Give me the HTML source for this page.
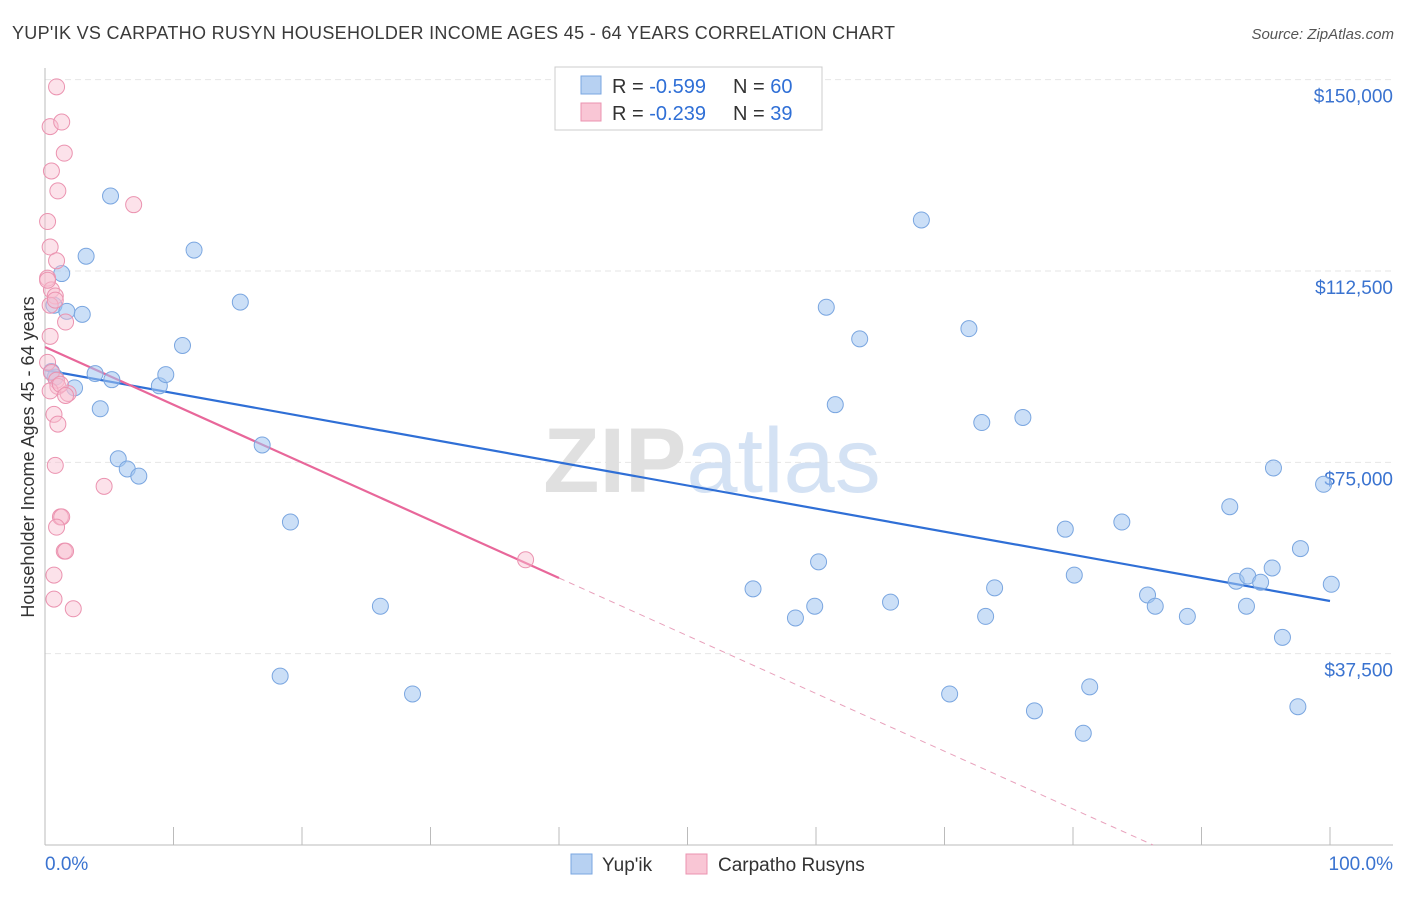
<!DOCTYPE html>
<html><head><meta charset="utf-8"><style>
body{margin:0;background:#fff;font-family:"Liberation Sans",sans-serif;}
svg text{font-family:"Liberation Sans",sans-serif;}
</style></head><body>
<svg id="chart" width="1406" height="892" xmlns="http://www.w3.org/2000/svg">
<text x="12" y="39" font-size="18" fill="#3a3a3a" textLength="883">YUP'IK VS CARPATHO RUSYN HOUSEHOLDER INCOME AGES 45 - 64 YEARS CORRELATION CHART</text>
<text x="1394" y="39" font-size="15" fill="#555" text-anchor="end" font-style="italic">Source: ZipAtlas.com</text>
<g id="grid"></g>
<text x="712" y="492" font-size="92" text-anchor="middle" fill="#e0e0e0" font-family="Liberation Serif" font-weight="bold">ZIP<tspan fill="#d4e2f4" font-family="Liberation Sans" font-weight="normal">atlas</tspan></text>
<text transform="translate(34,457) rotate(-90)" font-size="18" fill="#333" text-anchor="middle">Householder Income Ages 45 - 64 years</text>
<g id="lines"></g>
<g id="points"></g>
<g>
<rect x="555" y="67" width="267" height="63" fill="#fff" stroke="#ccc"/>
<rect x="581" y="76" width="20" height="18" fill="#b7d1f2" stroke="#7aa6e0"/>
<rect x="581" y="103" width="20" height="18" fill="#f9c6d5" stroke="#eb93b0"/>
<text x="612" y="93" font-size="20" fill="#333">R = <tspan fill="#2f6fd6">-0.599</tspan></text>
<text x="733" y="93" font-size="20" fill="#333">N = <tspan fill="#2f6fd6">60</tspan></text>
<text x="612" y="120" font-size="20" fill="#333">R = <tspan fill="#2f6fd6">-0.239</tspan></text>
<text x="733" y="120" font-size="20" fill="#333">N =  <tspan fill="#2f6fd6">39</tspan></text>
</g>
<g>
<rect x="571" y="854" width="21" height="20" fill="#b7d1f2" stroke="#7aa6e0"/>
<text x="602" y="871" font-size="19" fill="#333">Yup'ik</text>
<rect x="686" y="854" width="21" height="20" fill="#f9c6d5" stroke="#eb93b0"/>
<text x="718" y="871" font-size="19" fill="#333">Carpatho Rusyns</text>
</g>
<text x="45" y="870" font-size="19" fill="#3a73d0">0.0%</text>
<text x="1393" y="870" font-size="19" fill="#3a73d0" text-anchor="end">100.0%</text>
</svg>
<script>
const yTicks=[37500,75000,112500,150000];
const yTickLabels=["$37,500","$75,000","$112,500","$150,000"];
const xTicks=[0,10,20,30,40,50,60,70,80,90,100];
const blueX=[5.1,3.2,1.3,0.7,1.7,2.9,11.6,15.2,10.7,3.9,5.2,2.3,8.9,9.4,4.3,5.7,6.4,7.3,16.9,19.1,26.1,18.3,28.6,68.2,60.8,63.4,71.9,61.5,72.9,76.1,79.4,83.8,95.6,99.5,92.2,97.7,80.1,95.5,92.7,93.6,94.6,100.1,73.9,60.2,55.1,58.4,59.9,65.8,73.2,85.8,86.4,88.9,93.5,96.3,70.4,77.0,81.3,80.8,97.5,0.8,0.5];
const blueY=[127200,115400,112000,105800,104600,104000,116600,106400,97900,92400,91200,89600,90000,92200,85500,75700,73700,72300,78400,63300,46800,33100,29600,122500,105400,99200,101200,86300,82800,83800,61900,63300,73900,70700,66300,58100,52900,54300,51700,52700,51500,51100,50400,55500,50200,44500,46800,47600,44800,49000,46800,44800,46800,40700,29600,26300,31000,21900,27100,91700,92800];
const pinkX=[0.9,0.4,1.3,1.5,0.5,1.0,6.9,0.2,0.4,0.9,0.2,0.5,0.8,0.4,1.6,0.4,0.2,0.5,0.9,1.0,1.8,0.7,1.0,4.6,0.8,1.2,1.3,0.9,1.5,1.6,0.7,0.7,2.2,37.4,0.4,0.8,0.2,1.2,1.6];
const pinkY=[148600,140800,141700,135600,132100,128200,125500,122200,117200,114500,111100,108800,107600,105800,102500,99700,94600,92600,91100,89900,88500,84400,82500,70300,74400,64300,64300,62300,57600,57600,52900,48200,46300,55900,89000,106800,110700,90300,88100];
const blueLine=[93100,47824];
const pinkLine=[97608,52332];
const pinkSolidEnd=40;
const NS="http://www.w3.org/2000/svg";
const X=v=>45+v*12.85, Y=v=>845-v/37500*191.33;
function mk(tag,attrs,parent){const e=document.createElementNS(NS,tag);for(const k in attrs)e.setAttribute(k,attrs[k]);document.getElementById(parent).appendChild(e);return e;}
const g="grid";
yTicks.forEach((t,i)=>{
 const l=mk("line",{x1:45,x2:1393,y1:Y(t),y2:Y(t),stroke:"#e6e6e6","stroke-dasharray":"6,4"},g);
 
 
 const tx=mk("text",{x:1393,y:Y(t)+23,"font-size":19,fill:"#3a73d0","text-anchor":"end"},g);
 tx.textContent=yTickLabels[i];
 
 
});
const ax=mk("line",{x1:45,x2:45,y1:68,y2:845,stroke:"#bbb"},g);


const bx=mk("line",{x1:45,x2:1393,y1:845,y2:845,stroke:"#bbb"},g);


xTicks.forEach(t=>{const l=mk("line",{x1:X(t),x2:X(t),y1:827,y2:845,stroke:"#bbb"},g);
 
 });
const bl=mk("line",{x1:X(0),y1:Y(blueLine[0]),x2:X(100),y2:Y(blueLine[1]),stroke:"#2f6fd6","stroke-width":2.2},"lines");


const slope=(pinkLine[1]-pinkLine[0])/pinkSolidEnd;
const zeroX=-pinkLine[0]/slope;
const pl=mk("line",{x1:X(0),y1:Y(pinkLine[0]),x2:X(pinkSolidEnd),y2:Y(pinkLine[1]),stroke:"#e8679a","stroke-width":2.2},"lines");


const pd=mk("line",{x1:X(pinkSolidEnd),y1:Y(pinkLine[1]),x2:X(zeroX),y2:Y(0),stroke:"#e8a0bb","stroke-width":1,"stroke-dasharray":"6,5"},"lines");


blueX.forEach((x,i)=>{const c=mk("circle",{cx:X(x),cy:Y(blueY[i]),r:8,fill:"rgba(160,196,240,0.55)",stroke:"#7aa6e0","stroke-width":1},"points");
 
 });
pinkX.forEach((x,i)=>{const c=mk("circle",{cx:X(x),cy:Y(pinkY[i]),r:8,fill:"rgba(248,190,208,0.45)",stroke:"#eb93b0","stroke-width":1},"points");
 
 });
</script>
</body></html>
